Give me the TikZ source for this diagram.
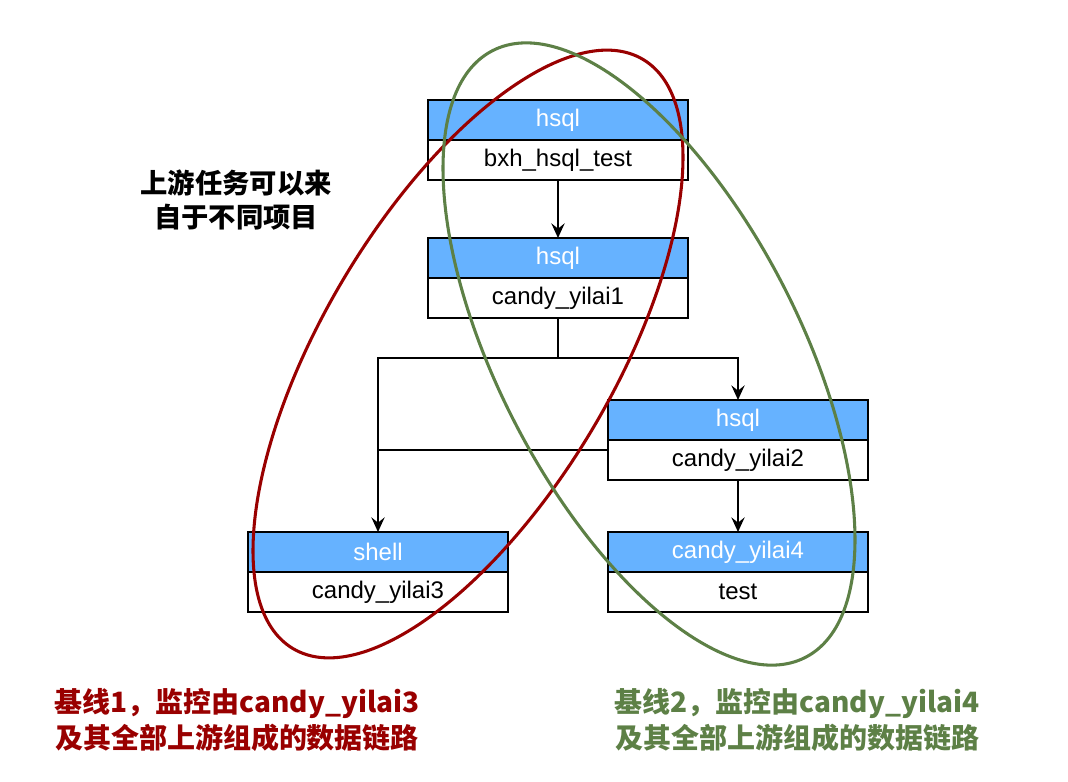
\documentclass[tikz,border=0pt]{standalone}
\usepackage{fontspec}
\setmainfont{Liberation Sans}
\newfontfamily\cjk{Noto Sans CJK SC}
\usetikzlibrary{positioning,shapes.geometric,arrows.meta}
\definecolor{hdrblue}{HTML}{66B2FF}
\definecolor{lineA}{HTML}{990000}
\definecolor{lineB}{RGB}{93,128,70}
\tikzset{
  hdr/.style={draw, line width=1.5pt, fill=hdrblue, text=white,
    minimum width=195pt, minimum height=30pt, inner sep=0pt, outer sep=0pt,
    font=\fontsize{18}{21}\selectfont},
  job/.style={hdr, fill=white, text=black},
  link/.style={line width=1.1pt},
  flow/.style={link, -{Stealth[length=11pt,width=10pt,inset=4pt]}},
  chain/.style={ellipse, draw, line width=2.3pt, inner sep=0pt, outer sep=0pt},
  note/.style={font=\cjk\bfseries\fontsize{20.5}{26}\selectfont, align=center}
}
\begin{document}
\begin{tikzpicture}[x=0.75pt,y=-0.75pt]
\useasboundingbox (0,0) rectangle (1068,782);
% jobs
\node[hdr] (src-h) at (558,120) {hsql};
\node[job, below=0pt of src-h] (src) {bxh\_hsql\_test};
\node[hdr] (y1-h) at (558,258) {hsql};
\node[job, below=0pt of y1-h] (y1) {candy\_yilai1};
\node[hdr] (y2-h) at (738,420) {hsql};
\node[job, below=0pt of y2-h] (y2) {candy\_yilai2};
\node[hdr] (y3-h) at (378,552) {shell};
\node[job, below=0pt of y3-h] (y3) {candy\_yilai3};
\node[hdr] (y4-h) at (738,552) {candy\_yilai4};
\node[job, below=0pt of y4-h] (y4) {test};
% dependencies
\coordinate (fork) at (558,358);
\coordinate (join) at (378,450);
\draw[flow] (src) -- (y1-h);
\draw[link] (y1) -- (fork);
\draw[flow] (fork) -| (y2-h);
\draw[flow] (fork) -| (y3-h);
\draw[link] (y2.west |- join) -- (join);
\draw[flow] (y2) -- (y4-h);
% baselines
\node[chain, lineA, minimum width=514pt, minimum height=218pt, rotate=59.3] (line1) at (468,354) {};
\node[chain, lineB, minimum width=512pt, minimum height=226pt, rotate=117.3] (line2) at (649,354) {};
% notes
\node[note] (cross) at (236,200) {上游任务可以来\\自于不同项目};
\node[note, text=lineA, font=\cjk\bfseries\fontsize{21}{27}\selectfont] (note1) at (237,720) {基线1，监控由candy\_yilai3\\及其全部上游组成的数据链路};
\node[note, text=lineB, font=\cjk\bfseries\fontsize{21}{27}\selectfont] (note2) at (797,720) {基线2，监控由candy\_yilai4\\及其全部上游组成的数据链路};
\end{tikzpicture}
\end{document}
